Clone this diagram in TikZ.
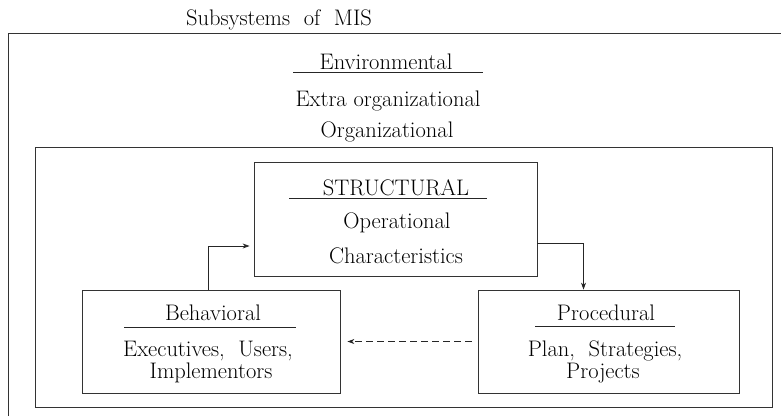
\documentclass[tikz,border=0pt]{standalone}
\usepackage{fontspec}
\usetikzlibrary{arrows.meta}
\begin{document}
\begin{tikzpicture}[x=1pt,y=-1pt,
  txt/.style={anchor=base,inner sep=0pt,font=\fontsize{22.5}{27}\selectfont},
  frame/.style={draw=black!80,line width=0.8pt},
  boxnode/.style={draw=black!80,line width=0.8pt,inner sep=0pt},
  uline/.style={draw=black!85,line width=0.9pt},
  conn/.style={draw=black!85,line width=0.8pt,-{Stealth[length=7pt,width=5pt]}}]
\useasboundingbox (0,0) rectangle (781,416);
% outer frame (visible left and top sides)
\draw[frame] (8,416) -- (8,33) -- (781,33);
% inner frame
\draw[frame] (35,147) rectangle (772,407);
% title
\node[txt] (title) at (279,25) {Subsystems\ \ of\ \ MIS};
% environmental
\node[txt] (env) at (386,69) {Environmental};
\draw[uline] (293,72.5) -- (483,72.5);
\node[txt] (extra) at (388,106) {Extra\ organizational};
\node[txt] (org) at (387,137) {Organizational};
% boxes
\node[boxnode,minimum width=283pt,minimum height=114pt] (str) at (395.5,219) {};
\node[boxnode,minimum width=258pt,minimum height=103pt] (beh) at (211,341.5) {};
\node[boxnode,minimum width=261pt,minimum height=103pt] (proc) at (608.5,341.5) {};
% structural texts
\node[txt] (strh) at (396,195) {\addfontfeatures{LetterSpace=6}STRUCTURAL};
\draw[uline] (289,198.5) -- (487,198.5);
\node[txt] (oper) at (397,228) {Operational};
\node[txt] (chars) at (396,263) {Characteristics};
% behavioral texts
\node[txt] (behh) at (213,320) {Behavioral};
\draw[uline] (124,327) -- (296,327);
\node[txt] (exec) at (208,356) {Executives,\ \ Users,};
\node[txt] (impl) at (211,378) {Implementors};
% procedural texts
\node[txt] (proch) at (606,320) {Procedural};
\draw[uline] (535,326.5) -- (675,326.5);
\node[txt] (plan) at (605,356) {Plan,\ \ Strategies,};
\node[txt] (proj) at (603,378) {Projects};
% connectors
\draw[conn,shorten >=4pt] ([xshift=-3pt]beh.north) |- ([yshift=-27pt]str.west);
\draw[conn] ([yshift=-24pt]str.east) -| ([xshift=-25pt]proc.north);
\draw[conn,dash pattern=on 7pt off 4pt,shorten <=6pt,shorten >=7pt] (proc.west) -- (beh.east);
\end{tikzpicture}
\end{document}
